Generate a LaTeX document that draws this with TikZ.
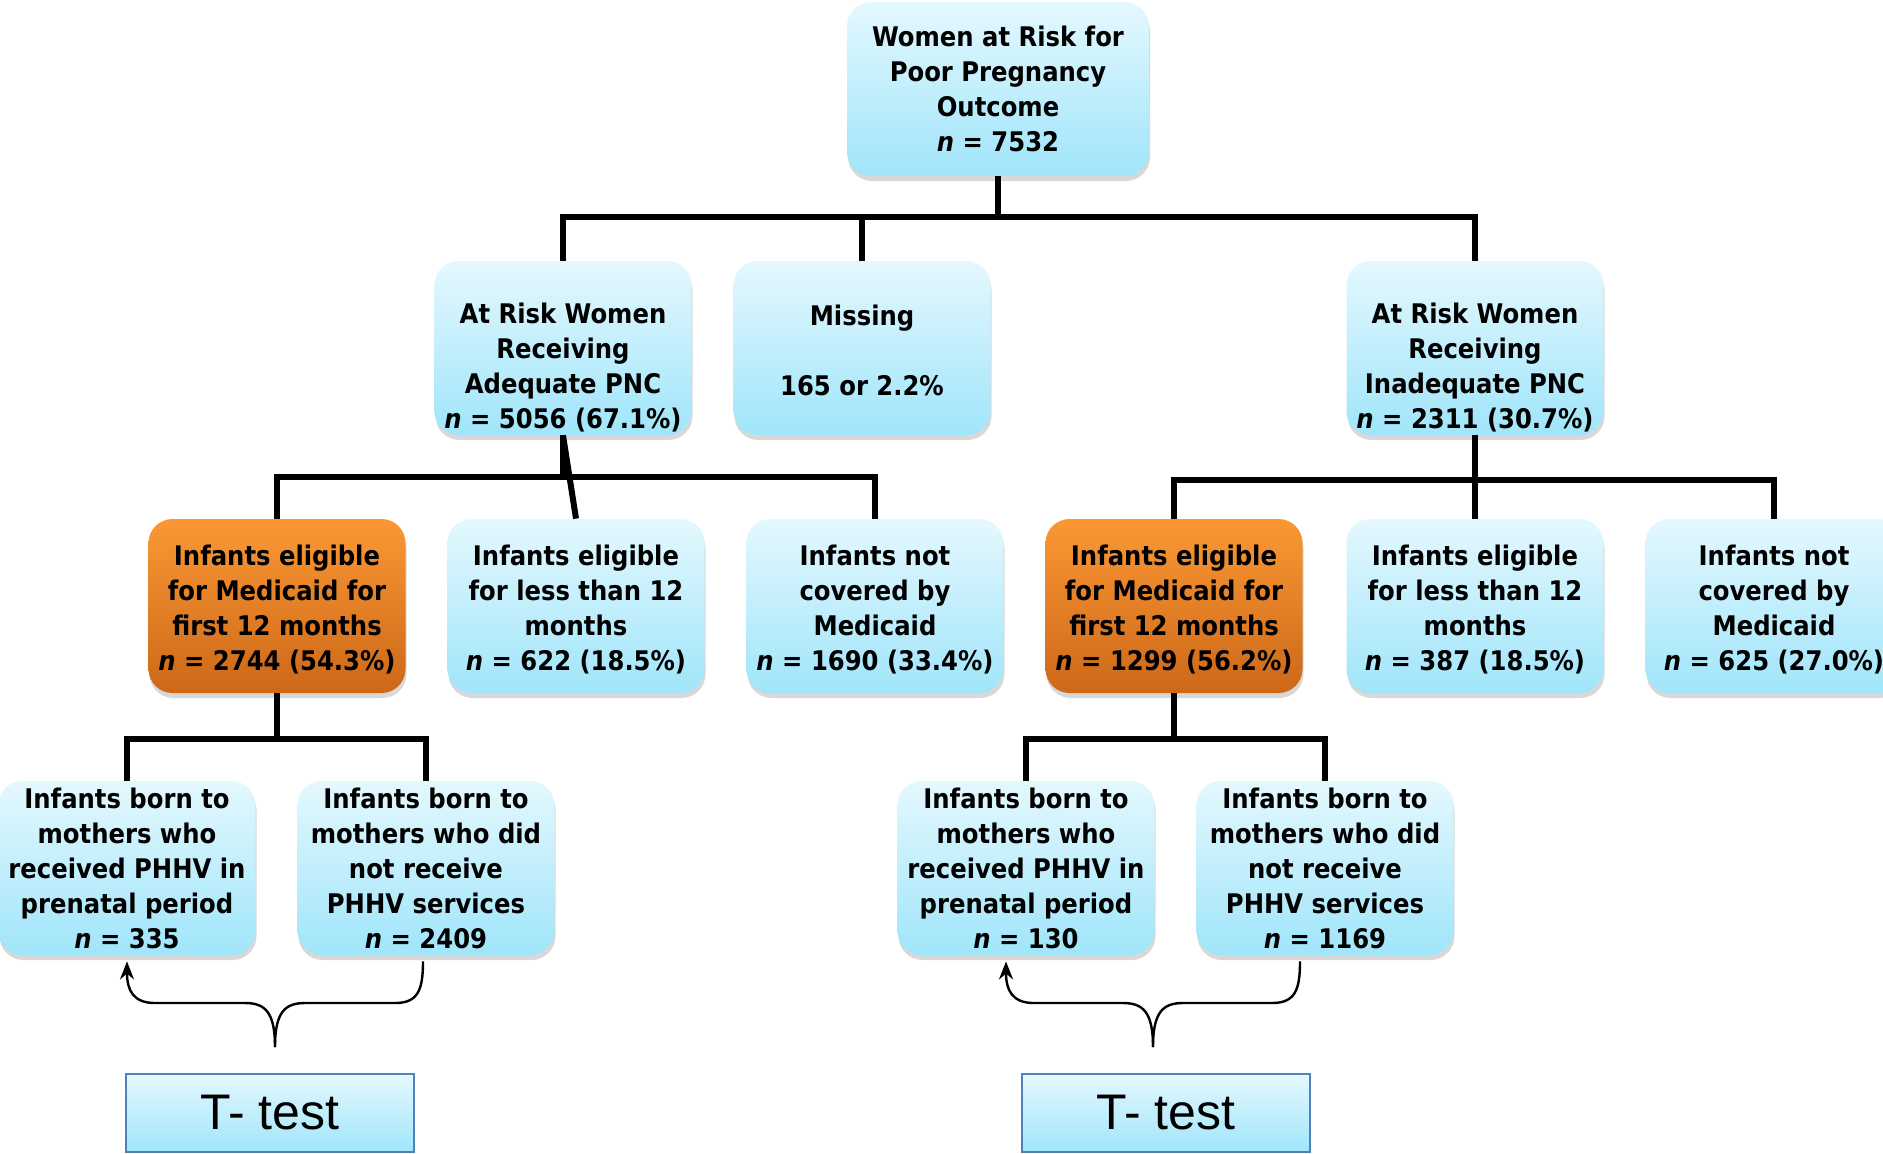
\documentclass[tikz,border=0pt]{standalone}
\usepackage{fontspec}
\setmainfont{DejaVu Sans Condensed}
\newfontfamily\arialfont{Liberation Sans}
\usetikzlibrary{shadows,arrows.meta}
\definecolor{cyantop}{RGB}{228,248,254}
\definecolor{cyanbot}{RGB}{160,229,250}
\definecolor{orgtop}{RGB}{251,152,52}
\definecolor{orgbot}{RGB}{204,104,24}
\definecolor{tblue}{RGB}{79,129,189}
\newcommand\lift[1]{\rule{0pt}{#1}}
\tikzset{
box/.style={rounded corners=12pt, top color=cyantop, bottom color=cyanbot,
  minimum width=128.5pt, minimum height=87pt, inner sep=1pt, align=center,
  font=\fontsize{13.5}{17.5}\selectfont\bfseries,
  drop shadow={shadow xshift=0.5pt, shadow yshift=-2.5pt, fill=black!30}},
hot/.style={box, top color=orgtop, bottom color=orgbot},
link/.style={line width=3pt},
brace/.style={line width=1.2pt},
ttest/.style={draw=tblue, line width=1pt, top color=cyantop, bottom color=cyanbot,
  minimum width=144pt, minimum height=39pt, font=\arialfont\fontsize{25}{30}\selectfont}
}
\begin{document}
\begin{tikzpicture}[x=0.5pt,y=-0.5pt]
\useasboundingbox (0,0) rectangle (1883,1153);
% top
\node[box, minimum width=151pt] (top) at (998,89) {Women at Risk for\\Poor Pregnancy\\Outcome\\\textit{n} = 7532};
% second row
\node[box] (adq) at (563,348) {\lift{30pt}At Risk Women\\Receiving\\Adequate PNC\\\textit{n} = 5056 (67.1\%)};
\node[box] (miss) at (862,348) {\lift{30pt}Missing\\\lift{3pt}\\165 or 2.2\%\\\lift{3pt}};
\node[box] (inadq) at (1475,348) {\lift{30pt}At Risk Women\\Receiving\\Inadequate PNC\\\textit{n} = 2311 (30.7\%)};
% third row
\node[hot] (eligA) at (277,606) {\lift{14pt}Infants eligible\\for Medicaid for\\first 12 months\\\textit{n} = 2744 (54.3\%)};
\node[box] (lessA) at (576,606) {\lift{14pt}Infants eligible\\for less than 12\\months\\\textit{n} = 622 (18.5\%)};
\node[box] (notA) at (875,606) {\lift{14pt}Infants not\\covered by\\Medicaid\\\textit{n} = 1690 (33.4\%)};
\node[hot] (eligB) at (1174,606) {\lift{14pt}Infants eligible\\for Medicaid for\\first 12 months\\\textit{n} = 1299 (56.2\%)};
\node[box] (lessB) at (1475,606) {\lift{14pt}Infants eligible\\for less than 12\\months\\\textit{n} = 387 (18.5\%)};
\node[box] (notB) at (1774,606) {\lift{14pt}Infants not\\covered by\\Medicaid\\\textit{n} = 625 (27.0\%)};
% fourth row
\node[box] (bornA) at (127,868) {Infants born to\\mothers who\\received PHHV in\\prenatal period\\\textit{n} = 335};
\node[box] (nobornA) at (426,868) {Infants born to\\mothers who did\\not receive\\PHHV services\\\textit{n} = 2409};
\node[box] (bornB) at (1026,868) {Infants born to\\mothers who\\received PHHV in\\prenatal period\\\textit{n} = 130};
\node[box] (nobornB) at (1325,868) {Infants born to\\mothers who did\\not receive\\PHHV services\\\textit{n} = 1169};
% tests
\node[ttest] (testA) at (270,1113) {T- test};
\node[ttest] (testB) at (1166,1113) {T- test};
% bus points
\coordinate (bus1) at (998,217);
\coordinate (bus2) at (563,477);
\coordinate (bus3) at (1475,480);
\coordinate (bus4) at (277,739);
\coordinate (bus5) at (1174,739);
\coordinate (tipA) at (275,1047);
\coordinate (tipB) at (1153,1047);
% links
\draw[link] (top.south) -- (bus1) -| (adq.north);
\draw[link] (bus1) -| (inadq.north);
\draw[link] (miss.north) -- (miss.north |- bus1);
\draw[link] (adq.south) -- (bus2) -| (eligA.north);
\draw[link] (bus2) -| (notA.north);
\draw[link] (adq.south) -- (lessA.north);
\draw[link] (inadq.south) -- (bus3) -| (eligB.north);
\draw[link] (bus3) -| (notB.north);
\draw[link] (bus3) -- (lessB.north);
\draw[link] (eligA.south) -- (bus4) -| (bornA.north);
\draw[link] (bus4) -| (nobornA.north);
\draw[link] (eligB.south) -- (bus5) -| (nobornB.north);
\draw[link] (bus5) -| (bornB.north);
% braces
\draw[brace,-{Stealth[length=9pt,width=7pt]}] (tipA) .. controls (275,1012) and (265,1003) .. (245,1003)
  -- (155,1003) .. controls (133,1003) and (127,990) .. ([yshift=-3pt]bornA.south);
\draw[brace] (tipA) .. controls (275,1012) and (285,1003) .. (305,1003)
  -- (395,1003) .. controls (418,1003) and (423,990) .. ([xshift=-1.5pt,yshift=-3pt]nobornA.south);
\draw[brace,-{Stealth[length=9pt,width=7pt]}] (tipB) .. controls (1153,1012) and (1143,1003) .. (1123,1003)
  -- (1034,1003) .. controls (1012,1003) and (1006,990) .. ([xshift=-10pt,yshift=-3pt]bornB.south);
\draw[brace] (tipB) .. controls (1153,1012) and (1163,1003) .. (1183,1003)
  -- (1272,1003) .. controls (1295,1003) and (1300,990) .. ([xshift=-12.5pt,yshift=-3pt]nobornB.south);
\end{tikzpicture}
\end{document}
